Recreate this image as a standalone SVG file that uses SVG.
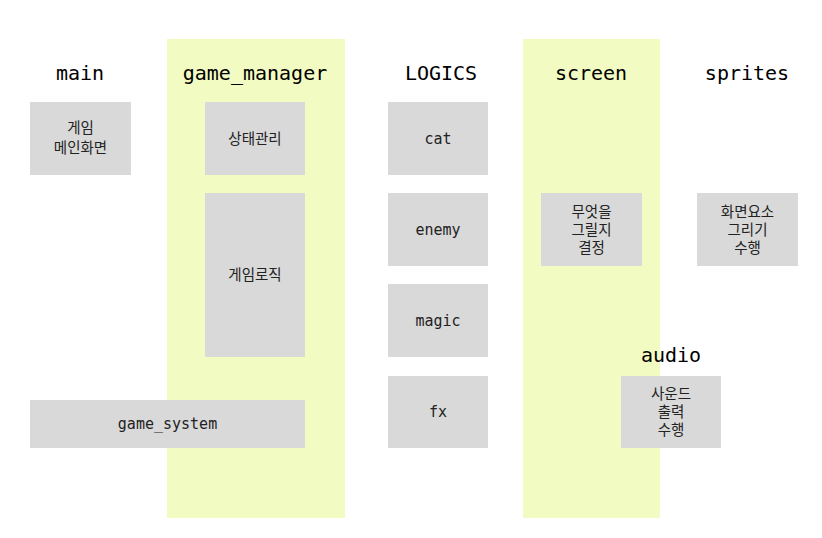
<svg xmlns="http://www.w3.org/2000/svg" width="822" height="538" viewBox="0 0 822 538">
<style>
.band{fill:#f2fcc2}
.box{fill:#d9d9d9}
.title{font-family:"DejaVu Sans Mono","Noto Sans CJK KR",monospace;font-size:20px;fill:#000;text-anchor:middle}
.lbl{font-family:"DejaVu Sans Mono","Noto Sans CJK KR",monospace;font-size:15px;fill:#222;text-anchor:middle}
.ko{font-family:"Noto Sans CJK KR","DejaVu Sans",sans-serif;font-size:14.5px;fill:#222;text-anchor:middle}
</style>
<rect width="822" height="538" fill="#fff"/>
<g id="band-game_manager"><rect class="band" x="167" y="39" width="178" height="479"/></g>
<g id="band-screen"><rect class="band" x="523" y="39" width="137" height="479"/></g>
<g id="titles">
<text class="title" x="80" y="80">main</text>
<text class="title" x="255" y="80">game_manager</text>
<text class="title" x="441" y="80">LOGICS</text>
<text class="title" x="591" y="80">screen</text>
<text class="title" x="747" y="80">sprites</text>
<text class="title" x="671" y="362">audio</text>
</g>
<g id="main-screen"><rect class="box" x="30" y="102" width="101" height="73"/><text class="ko" x="80.5" y="133">게임</text><text class="ko" x="80.5" y="153">메인화면</text></g>
<g id="state"><rect class="box" x="205" y="102" width="100" height="73"/><text class="ko" x="255" y="144">상태관리</text></g>
<g id="logic"><rect class="box" x="205" y="193" width="100" height="164"/><text class="ko" x="255" y="280">게임로직</text></g>
<g id="game_system"><rect class="box" x="30" y="400" width="275" height="48"/><text class="lbl" x="167.5" y="429">game_system</text></g>
<g id="cat"><rect class="box" x="388" y="102" width="100" height="73"/><text class="lbl" x="438" y="144">cat</text></g>
<g id="enemy"><rect class="box" x="388" y="193" width="100" height="73"/><text class="lbl" x="438" y="235">enemy</text></g>
<g id="magic"><rect class="box" x="388" y="284" width="100" height="73"/><text class="lbl" x="438" y="326">magic</text></g>
<g id="fx"><rect class="box" x="388" y="376" width="100" height="72"/><text class="lbl" x="438" y="417">fx</text></g>
<g id="decide"><rect class="box" x="541" y="193" width="101" height="73"/><text class="ko" x="591.5" y="217">무엇을</text><text class="ko" x="591.5" y="235">그릴지</text><text class="ko" x="591.5" y="253">결정</text></g>
<g id="draw"><rect class="box" x="697" y="193" width="101" height="73"/><text class="ko" x="747.5" y="217">화면요소</text><text class="ko" x="747.5" y="235">그리기</text><text class="ko" x="747.5" y="253">수행</text></g>
<g id="sound"><rect class="box" x="621" y="376" width="100" height="72"/><text class="ko" x="671" y="399">사운드</text><text class="ko" x="671" y="417">출력</text><text class="ko" x="671" y="435">수행</text></g>
<g id="connectors"></g>
</svg>
